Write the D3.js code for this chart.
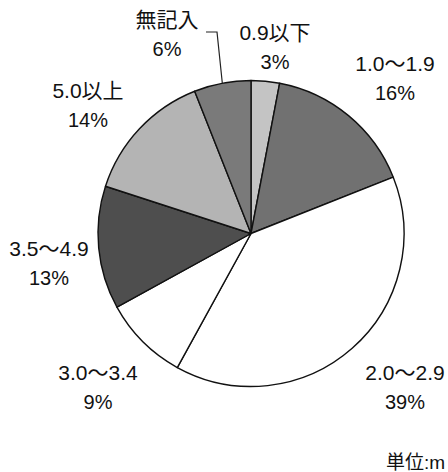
<!DOCTYPE html>
<html>
<head>
<meta charset="utf-8">
<script src="https://cdn.jsdelivr.net/npm/d3@7"></script>
<style>
  html, body { margin: 0; padding: 0; background: #fff; overflow: hidden; }
  text { font-family: "Liberation Sans", "Noto Sans CJK JP", sans-serif; fill: #111; }
</style>
</head>
<body>
<svg id="chart" width="448" height="472"></svg>
<script>
// slices, clockwise from 12 o'clock
const categories = ['0.9以下', '1.0～1.9', '2.0～2.9', '3.0～3.4', '3.5～4.9', '5.0以上', '無記入']
const shares = [3, 16, 39, 9, 13, 14, 6]
const unitLabel = '単位:m'

// layout only
const fills = ['#c4c4c4', '#717171', '#ffffff', '#ffffff', '#4e4e4e', '#b4b4b4', '#7a7a7a']
const labelPos = [[275, 47], [395, 78], [405, 387], [98, 387], [49, 263], [88, 105], [167, 34]]

const cx = 251, cy = 233.5, radius = 153

const svg = d3.select('#chart')
const g = svg.append('g').attr('transform', `translate(${cx}, ${cy})`)

const pie = d3.pie().sort(null).value(d => d)
const arcs = pie(shares)
const arc = d3.arc().innerRadius(0).outerRadius(radius)
const edge = d3.arc().innerRadius(radius).outerRadius(radius)

g.selectAll('path.slice')
  .data(arcs)
  .enter()
  .append('path')
    .attr('class', 'slice')
    .attr('d', arc)
    .attr('fill', (d, i) => fills[i])
    .attr('stroke', '#111')
    .attr('stroke-width', 1.4)
    .attr('stroke-linejoin', 'round')

// leader line for 無記入
const last = arcs.length - 1
const tip = edge.centroid(arcs[last])
svg.append('path')
  .attr('d', d3.line()([[206, 32], [217, 32], [cx + tip[0], cy + tip[1]]]))
  .attr('fill', 'none')
  .attr('stroke', '#222')
  .attr('stroke-width', 1.2)

const labels = svg.selectAll('g.label')
  .data(categories)
  .enter()
  .append('g')
    .attr('class', 'label')
    .attr('transform', (d, i) => `translate(${labelPos[i][0]}, ${labelPos[i][1]})`)

labels.append('text')
  .attr('y', -15)
  .attr('text-anchor', 'middle')
  .attr('dominant-baseline', 'central')
  .attr('font-size', 21)
  .text(d => d)

labels.append('text')
  .attr('y', 15)
  .attr('text-anchor', 'middle')
  .attr('dominant-baseline', 'central')
  .attr('font-size', 20)
  .text((d, i) => shares[i] + '%')

svg.append('text')
  .attr('x', 386)
  .attr('y', 462)
  .attr('dominant-baseline', 'central')
  .attr('font-size', 19)
  .text(unitLabel)
</script>
</body>
</html>
